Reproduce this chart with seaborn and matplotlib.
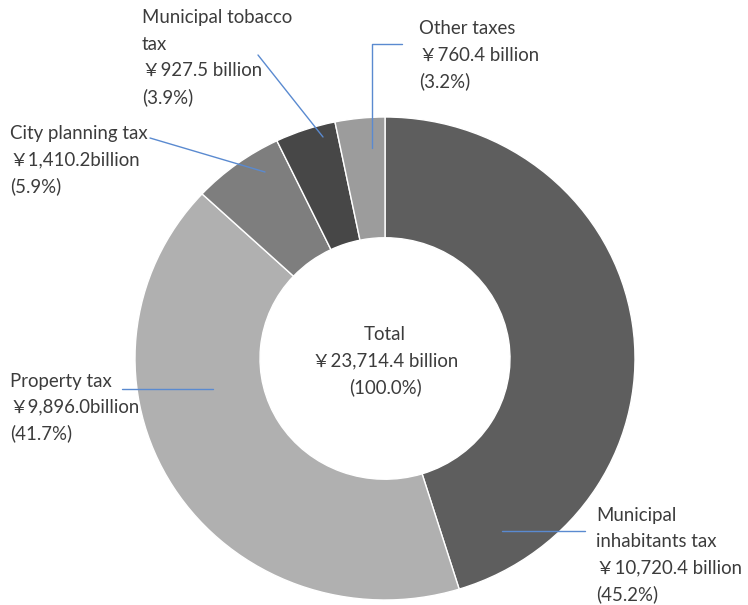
import matplotlib
matplotlib.use("Agg")
import matplotlib.pyplot as plt
import seaborn as sns

# tax categories, clockwise from 12 o'clock
categories = ["Municipal\ninhabitants tax", "Property tax", "City planning tax",
              "Municipal tobacco\ntax", "Other taxes"]
amounts = [10720.4, 9896.0, 1410.2, 927.5, 760.4]
amount_labels = ["￥10,720.4 billion", "￥9,896.0billion", "￥1,410.2billion",
                 "￥927.5 billion", "￥760.4 billion"]
shares = [45.2, 41.7, 5.9, 3.9, 3.2]
total_label = "Total\n￥23,714.4 billion\n(100.0%)"

colors = ["#5e5e5e", "#b0b0b0", "#7e7e7e", "#474747", "#9c9c9c"]

# label anchors (left edge, first line centre) and leader lines, in pixels
label_pos = [(596, 515), (10, 381), (10, 134), (142, 18), (419, 29)]
leaders = [
    [(502, 531), (585, 531)],
    [(122, 389), (213, 389)],
    [(150, 138), (265, 172)],
    [(258, 55), (323, 137)],
    [(372, 148), (372, 44), (402, 44)],
]

W, H = 748, 605
CX, CY, RX, RY = 385, 358.5, 250, 241.5


def px(x, y):
    return (x - CX) / RX, (CY - y) / RY


sns.set_theme(style="white")
plt.rcParams["font.family"] = ["Lato", "Noto Sans CJK JP"]
text_color = "#3c3c3c"
fs = 13.4
step = 26.3

fig = plt.figure(figsize=(W / 100, H / 100), dpi=100)
ax = fig.add_axes([0, 0, 1, 1])

ax.pie(amounts, colors=colors, startangle=90, counterclock=False, radius=1,
       wedgeprops=dict(width=0.5, edgecolor="white", linewidth=1.0))
ax.set_aspect("auto")
x0, y0 = px(0, H)
x1, y1 = px(W, 0)
ax.set_xlim(x0, x1)
ax.set_ylim(y0, y1)
ax.axis("off")

for name, amt, pct, (lx, ly) in zip(categories, amount_labels, shares, label_pos):
    txt = f"{name}\n{amt}\n({pct:.1f}%)"
    for i, line in enumerate(txt.split("\n")):
        ax.text(*px(lx, ly + i * step), line, ha="left", va="center",
                fontsize=fs, color=text_color)

for i, line in enumerate(total_label.split("\n")):
    ax.text(*px(385, 335 + i * step), line, ha="center", va="center",
            fontsize=fs, color=text_color)

for pts in leaders:
    xs, ys = zip(*[px(x, y) for x, y in pts])
    ax.plot(xs, ys, color="#5a8ad0", linewidth=1)

fig.savefig("out.png", dpi=100)
